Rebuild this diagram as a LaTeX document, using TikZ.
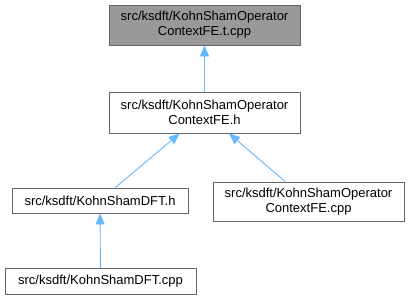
\documentclass[tikz,border=0pt]{standalone}
\usepackage{fontspec}
\setmainfont{Liberation Sans}
\usetikzlibrary{arrows.meta}
\definecolor{boxline}{HTML}{666666}
\definecolor{curfill}{HTML}{999999}
\definecolor{edgeblue}{HTML}{63B8FF}
\begin{document}
\begin{tikzpicture}[x=1pt,y=-1pt,
  filebox/.style={draw=boxline, line width=0.9pt, fill=white, inner sep=0pt,
    align=center, font=\fontsize{13}{15}\selectfont, text=black},
  curbox/.style={filebox, fill=curfill},
  dep/.style={draw=edgeblue, line width=0.9pt,
    -{Triangle[length=11pt,width=9pt]}}]
\useasboundingbox (0,0) rectangle (409,300);
\node[curbox, minimum width=191pt, minimum height=40pt] (top) at (204.5,25)
  {src/ksdft/KohnShamOperator\\ContextFE.t.cpp};
\node[filebox, minimum width=191pt, minimum height=41pt] (mid) at (204.5,112.5)
  {src/ksdft/KohnShamOperator\\ContextFE.h};
\node[filebox, minimum width=176pt, minimum height=25pt] (dfth) at (100,200.5)
  {src/ksdft/KohnShamDFT.h};
\node[filebox, minimum width=191pt, minimum height=39pt] (ctxcpp) at (308.5,201.5)
  {src/ksdft/KohnShamOperator\\ContextFE.cpp};
\node[filebox, minimum width=191pt, minimum height=26pt] (dftcpp) at (100.5,281.5)
  {src/ksdft/KohnShamDFT.cpp};
\draw[dep] (mid) -- (top);
\draw[dep] (dfth) -- (mid);
\draw[dep] (ctxcpp) -- (mid);
\draw[dep] (dftcpp) -- (dfth);
\end{tikzpicture}
\end{document}
